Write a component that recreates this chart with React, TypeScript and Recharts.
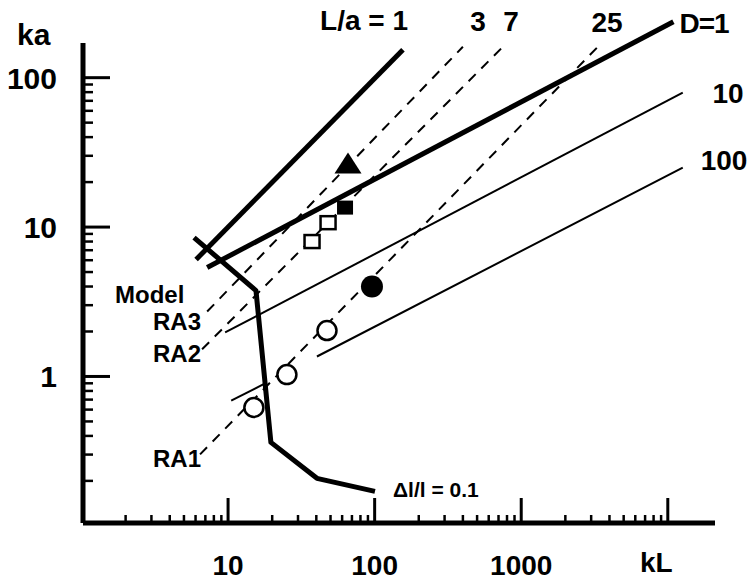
import React from 'react';
import { ComposedChart, Line, Scatter, XAxis, YAxis, ReferenceLine } from 'recharts';

// ---------- axes ----------
const X_DOMAIN = [1.024, 20990];
const Y_DOMAIN = [0.1045, 283.8];
const Y_AXIS_TOP = 170.6;
const MINOR_STEPS = [2, 3, 4, 5, 6, 7, 8, 9];
const X_DECADES = [1, 10, 100, 1000];
const Y_DECADES = [0.1, 1, 10];
const X_MAJOR = [10, 100, 1000, 10000];
const Y_MAJOR = [1, 10, 100];
const X_TICK_LABELS: Record<string, string> = { '10': '10', '100': '100', '1000': '1000' };
const Y_TICK_LABELS: Record<string, string> = { '1': '1', '10': '10', '100': '100' };

// ---------- series (kL, ka) ----------
const LA1 = [{ kL: 6.05, ka: 6.06 }, { kL: 156, ka: 154 }];
const D1 = [{ kL: 7.2, ka: 5.36 }, { kL: 10920, ka: 237 }];
const D10 = [{ kL: 9.55, ka: 1.97 }, { kL: 12650, ka: 79.4 }];
const D100A = [{ kL: 10.5, ka: 0.69 }, { kL: 17.9, ka: 0.898 }];
const D100B = [{ kL: 40.4, ka: 1.36 }, { kL: 12650, ka: 25.0 }];
const MODEL = [
  { kL: 5.86, ka: 8.51 },
  { kL: 15.5, ka: 3.76 },
  { kL: 19.6, ka: 0.362 },
  { kL: 40.4, ka: 0.208 },
  { kL: 100.5, ka: 0.17 },
];
const RA3 = [{ kL: 7.2, ka: 2.72 }, { kL: 400, ka: 161 }];
const RA2 = [{ kL: 6.65, ka: 1.52 }, { kL: 773, ka: 166 }];
const RA1 = [{ kL: 6.44, ka: 0.301 }, { kL: 3540, ka: 171 }];

const OPEN_CIRCLES = [{ kL: 15.0, ka: 0.62 }, { kL: 25.2, ka: 1.03 }, { kL: 47.3, ka: 2.03 }];
const FILLED_CIRCLES = [{ kL: 95.9, ka: 4.0 }];
const OPEN_SQUARES = [{ kL: 37.4, ka: 8.0 }, { kL: 48.1, ka: 10.7 }];
const FILLED_SQUARES = [{ kL: 62.8, ka: 13.5 }];
const TRIANGLES = [{ kL: 65.8, ka: 26.2 }];

// ---------- annotations ----------
const NOTES = [
  { t: 'L/a = 1', x: 364, y: 30, a: 'middle', s: 28, ls: 0 },
  { t: '3', x: 478, y: 31, a: 'middle', s: 28, ls: 0 },
  { t: '7', x: 511, y: 31, a: 'middle', s: 28, ls: 0 },
  { t: '25', x: 607, y: 32, a: 'middle', s: 28, ls: 0 },
  { t: 'D=1', x: 704, y: 33, a: 'middle', s: 28, ls: -1 },
  { t: '10', x: 728, y: 103, a: 'middle', s: 28, ls: 0 },
  { t: '100', x: 724, y: 170, a: 'middle', s: 28, ls: 0 },
  { t: 'Model', x: 115, y: 303, a: 'start', s: 24, ls: 0 },
  { t: 'RA3', x: 153, y: 330, a: 'start', s: 24, ls: 0 },
  { t: 'RA2', x: 153, y: 362, a: 'start', s: 24, ls: 0 },
  { t: 'RA1', x: 153, y: 467, a: 'start', s: 24, ls: 0 },
  { t: 'Δl/l = 0.1', x: 393, y: 497, a: 'start', s: 21, ls: 0 },
  { t: 'ka', x: 17, y: 45, a: 'start', s: 30, ls: 0 },
  { t: 'kL', x: 640, y: 572, a: 'start', s: 28, ls: 0 },
];

const FONT = "'Liberation Sans', Arial, sans-serif";

const X_TICKS = [...X_DECADES.flatMap((d) => MINOR_STEPS.map((s) => s * d)), ...X_MAJOR].sort((a, b) => a - b);
const Y_TICKS = [...Y_DECADES.flatMap((d) => MINOR_STEPS.map((s) => s * d)), ...Y_MAJOR].sort((a, b) => a - b);

const isMajor = (v: number) => Math.abs(Math.log10(v) - Math.round(Math.log10(v))) < 1e-6;

const XTick = (props: any) => {
  const { x, y, payload } = props;
  const v = payload.value;
  const major = isMajor(v);
  const label = major ? X_TICK_LABELS[String(Math.round(v))] : undefined;
  return (
    <g>
      <line x1={x} x2={x} y1={y} y2={y - (major ? 25 : 8)} stroke="#000" strokeWidth={major ? 3 : 2.5} />
      {label && (
        <text x={x} y={y + 52} textAnchor="middle" fontFamily={FONT} fontWeight="bold" fontSize={28} fill="#000">
          {label}
        </text>
      )}
    </g>
  );
};

const YTick = (props: any) => {
  const { x, y, payload } = props;
  const v = payload.value;
  const major = isMajor(v);
  const label = major ? Y_TICK_LABELS[String(Math.round(v))] : undefined;
  return (
    <g>
      <line x1={x} x2={x + (major ? 27 : 10)} y1={y} y2={y} stroke="#000" strokeWidth={major ? 3 : 2.5} />
      {label && (
        <text x={x - 26} y={y + 11} textAnchor="end" fontFamily={FONT} fontWeight="bold" fontSize={30} fill="#000">
          {label}
        </text>
      )}
    </g>
  );
};

const OpenCircle = (p: any) => <circle cx={p.cx} cy={p.cy} r={9.5} fill="#fff" stroke="#000" strokeWidth={2.5} />;
const FilledCircle = (p: any) => <circle cx={p.cx} cy={p.cy} r={11} fill="#000" />;
const OpenSquare = (p: any) => (
  <rect x={p.cx - 7.5} y={p.cy - 6.5} width={15} height={13} fill="#fff" stroke="#000" strokeWidth={2.5} />
);
const FilledSquare = (p: any) => <rect x={p.cx - 8} y={p.cy - 7} width={16} height={14} fill="#000" />;
const Triangle = (p: any) => (
  <polygon
    points={`${p.cx - 13.5},${p.cy + 9} ${p.cx + 13.5},${p.cy + 9} ${p.cx},${p.cy - 12}`}
    fill="#000"
  />
);

const lineCommon = { type: 'linear' as const, dataKey: 'ka', dot: false, activeDot: false, isAnimationActive: false, stroke: '#000' };

export default function App() {
  return (
    <div style={{ position: 'absolute', left: 0, top: 0, width: 751, height: 581, background: '#fff' }}>
      <ComposedChart width={751} height={581} margin={{ top: 10, right: 36, bottom: 0, left: 0 }}>
        <XAxis
          dataKey="kL"
          type="number"
          scale="log"
          domain={X_DOMAIN}
          allowDataOverflow
          ticks={X_TICKS}
          interval={0}
          height={58}
          tickSize={0}
          tickMargin={0}
          tickLine={false}
          tick={<XTick />}
          axisLine={{ stroke: '#000', strokeWidth: 5 }}
        />
        <YAxis
          dataKey="ka"
          type="number"
          scale="log"
          domain={Y_DOMAIN}
          allowDataOverflow
          ticks={Y_TICKS}
          interval={0}
          width={83}
          tickSize={0}
          tickMargin={0}
          tickLine={false}
          tick={<YTick />}
          axisLine={false}
        />
        <ReferenceLine
          segment={[{ x: X_DOMAIN[0], y: Y_DOMAIN[0] }, { x: X_DOMAIN[0], y: Y_AXIS_TOP }]}
          stroke="#000"
          strokeWidth={5}
          ifOverflow="visible"
        />
        <Line {...lineCommon} data={RA3} strokeWidth={2} strokeDasharray="10 8" />
        <Line {...lineCommon} data={RA2} strokeWidth={2} strokeDasharray="10 8" />
        <Line {...lineCommon} data={RA1} strokeWidth={2} strokeDasharray="10 8" />
        <Line {...lineCommon} data={D10} strokeWidth={2} />
        <Line {...lineCommon} data={D100A} strokeWidth={2} />
        <Line {...lineCommon} data={D100B} strokeWidth={2} />
        <Line {...lineCommon} data={LA1} strokeWidth={5} />
        <Line {...lineCommon} data={D1} strokeWidth={5} />
        <Line {...lineCommon} data={MODEL} strokeWidth={5} strokeLinejoin="round" />
        <Scatter data={OPEN_CIRCLES} dataKey="ka" shape={<OpenCircle />} isAnimationActive={false} />
        <Scatter data={FILLED_CIRCLES} dataKey="ka" shape={<FilledCircle />} isAnimationActive={false} />
        <Scatter data={OPEN_SQUARES} dataKey="ka" shape={<OpenSquare />} isAnimationActive={false} />
        <Scatter data={FILLED_SQUARES} dataKey="ka" shape={<FilledSquare />} isAnimationActive={false} />
        <Scatter data={TRIANGLES} dataKey="ka" shape={<Triangle />} isAnimationActive={false} />
      </ComposedChart>
      <svg width={751} height={581} style={{ position: 'absolute', left: 0, top: 0, pointerEvents: 'none' }}>
        {NOTES.map((n) => (
          <text
            key={n.t + n.x}
            x={n.x}
            y={n.y}
            textAnchor={n.a as any}
            fontFamily={FONT}
            fontWeight="bold"
            fontSize={n.s}
            letterSpacing={n.ls}
            fill="#000"
          >
            {n.t}
          </text>
        ))}
      </svg>
    </div>
  );
}
